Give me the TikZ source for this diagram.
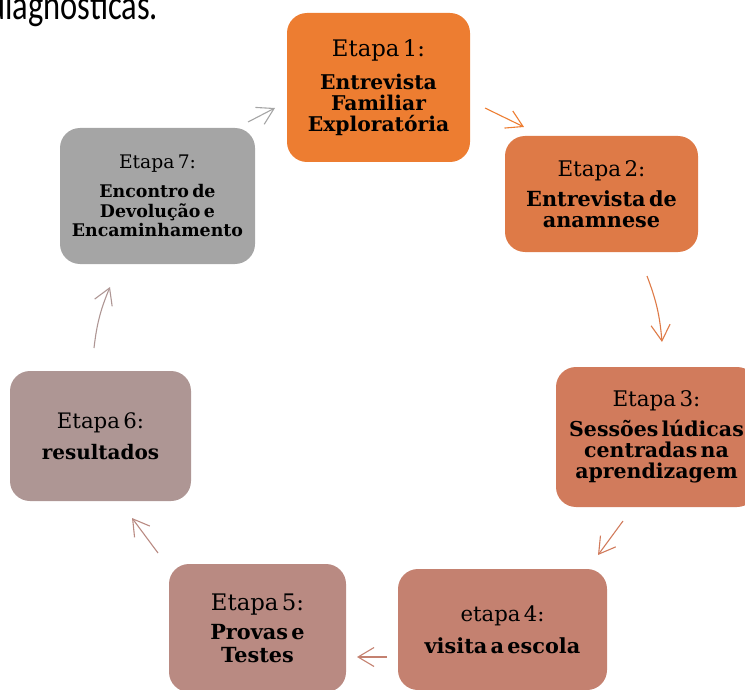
\documentclass[tikz,border=0pt]{standalone}
\usepackage{fontspec}
\setmainfont{DejaVu Serif}
\newfontfamily\topfont{Carlito}
\usetikzlibrary{arrows.meta}
\definecolor{c1}{RGB}{237,125,49}
\definecolor{c2}{RGB}{222,122,71}
\definecolor{c3}{RGB}{209,123,92}
\definecolor{c4}{RGB}{196,129,112}
\definecolor{c5}{RGB}{185,138,130}
\definecolor{c6}{RGB}{174,150,148}
\definecolor{c7}{RGB}{165,165,165}
% #1 etapa size, #2 bold size, #3 bold line skip, #4 extra gap, #5 etapa text, #6 bold text
\newcommand\stagecontent[6]{{\fontsize{#1pt}{#1pt}\selectfont #5\par}\vspace{#4pt}{\fontsize{#2pt}{#3pt}\selectfont\bfseries #6\par}}
\tikzset{
  stagebox/.style={rounded corners=20pt, inner sep=0pt, align=center, text=black},
  cyc/.style={line width=1.1pt, -{Straight Barb[length=16pt,width=19pt]}},
}
\begin{document}
\begin{tikzpicture}[x=1pt,y=1pt]
\useasboundingbox (0,0) rectangle (745,-690);
\clip (0,0) rectangle (745,-690);
\node[anchor=base west, inner sep=0pt, yscale=1.3, transform shape, font=\topfont\fontsize{32.5}{36}\selectfont] (top) at (-12,-19.5) {diagnósticas.};

\node[stagebox, fill=c1, minimum width=183pt, minimum height=149pt, text width=179pt] (b1) at (378.5,-87.5)
  {\stagecontent{22.8}{20.3}{21}{12}{Etapa 1:}{Entrevista\\Familiar\\Exploratória}};
\node[stagebox, fill=c2, minimum width=193pt, minimum height=116pt, text width=189pt] (b2) at (601.5,-194)
  {\stagecontent{21.5}{20.8}{21}{9}{Etapa 2:}{Entrevista de\\anamnese}};
\node[stagebox, fill=c3, minimum width=201pt, minimum height=140pt, text width=197pt] (b3) at (656.5,-437)
  {\stagecontent{21.5}{20.5}{21}{9}{Etapa 3:}{Sessões lúdicas\\centradas na\\aprendizagem}};
\node[stagebox, fill=c4, minimum width=209pt, minimum height=121pt, text width=205pt] (b4) at (502.5,-629.5)
  {\stagecontent{21.2}{20.8}{21}{11}{etapa 4:}{visita a escola}};
\node[stagebox, fill=c5, minimum width=177pt, minimum height=128pt, text width=173pt] (b5) at (257.5,-628)
  {\stagecontent{22.8}{20.8}{23}{6}{Etapa 5:}{Provas e\\Testes}};
\node[stagebox, fill=c6, minimum width=181pt, minimum height=130pt, text width=177pt] (b6) at (100.5,-436)
  {\stagecontent{21.3}{20}{21}{10}{Etapa 6:}{resultados}};
\node[stagebox, fill=c7, minimum width=195pt, minimum height=136pt, text width=191pt] (b7) at (157.5,-196)
  {\stagecontent{18.7}{17.4}{19.5}{9.5}{Etapa 7:}{Encontro de\\Devolução e\\Encaminhamento}};

\coordinate (a1s) at (485,-108);  \coordinate (a1e) at (524,-127);
\coordinate (a2s) at (647,-276);  \coordinate (a2e) at (662,-342);
\coordinate (a3s) at (623,-521);  \coordinate (a3e) at (598,-555);
\coordinate (a4s) at (387,-657);  \coordinate (a4e) at (357,-657);
\coordinate (a5s) at (158,-553);  \coordinate (a5e) at (132,-518);
\coordinate (a6s) at (94,-348);   \coordinate (a6e) at (110,-287);
\coordinate (a7s) at (248,-122);  \coordinate (a7e) at (275,-108);

\draw[cyc, c1] (a1s) to (a1e);
\draw[cyc, c2] (a2s) to[bend left=8] (a2e);
\draw[cyc, c3] (a3s) to (a3e);
\draw[cyc, c4] (a4s) to (a4e);
\draw[cyc, c5] (a5s) to (a5e);
\draw[cyc, c6] (a6s) to[bend left=8] (a6e);
\draw[cyc, c7] (a7s) to (a7e);
\end{tikzpicture}
\end{document}
